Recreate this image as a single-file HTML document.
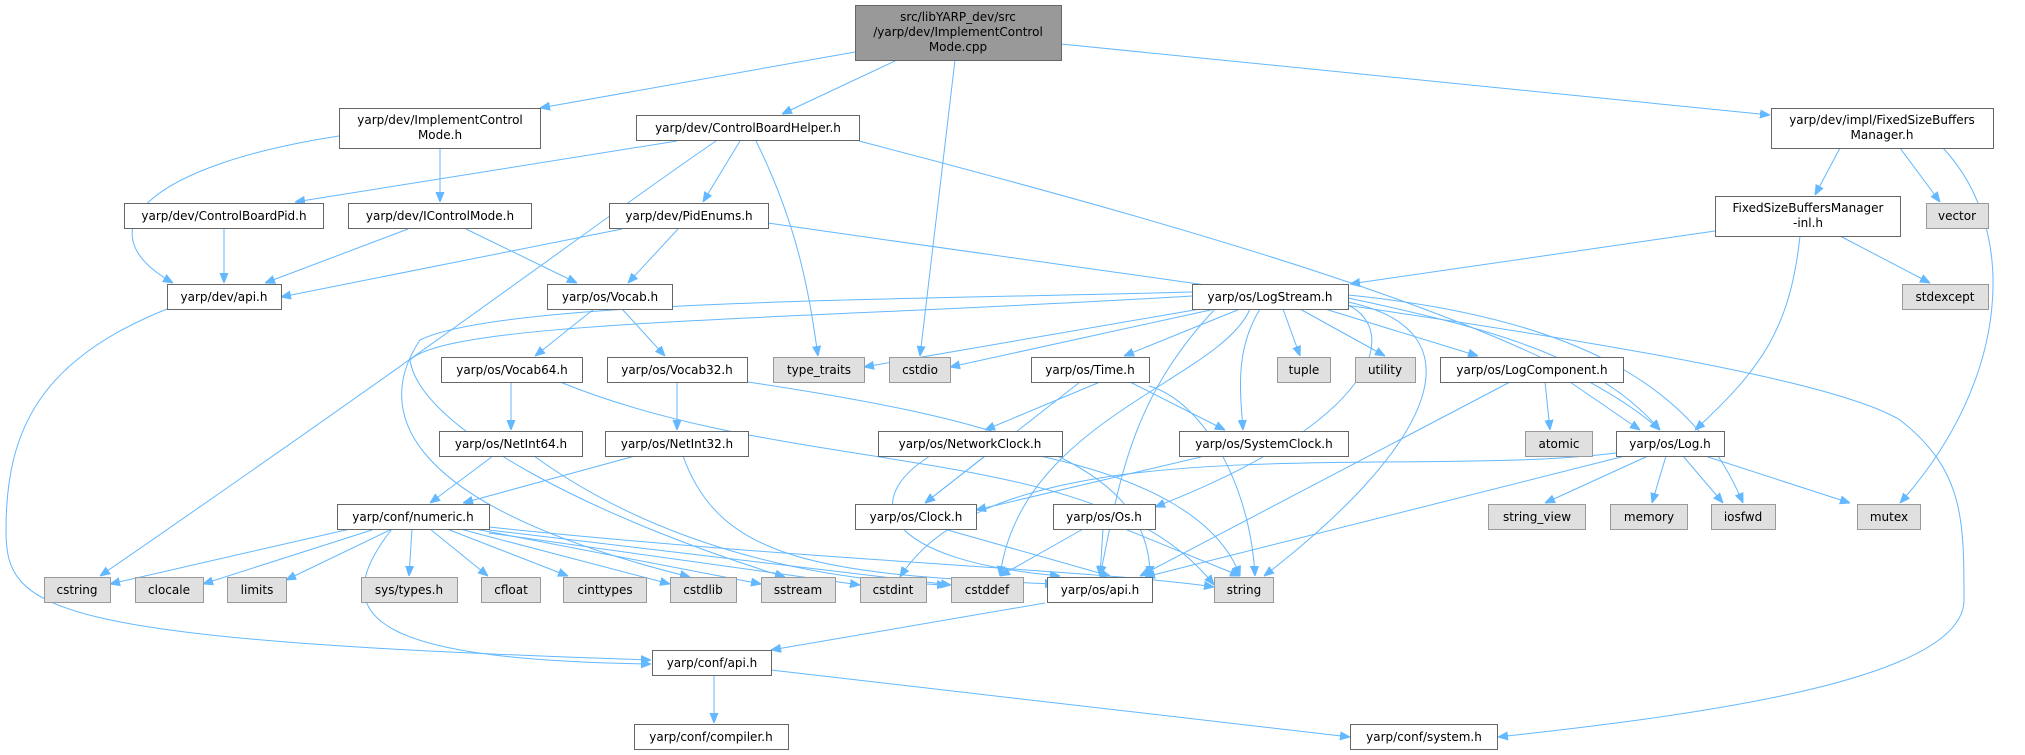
<!DOCTYPE html>
<html><head><meta charset="utf-8"><style>
html,body{margin:0;padding:0;background:#fff;}
svg{display:block}
text{font-family:"DejaVu Sans","Liberation Sans",sans-serif;font-size:12px;fill:#000;text-anchor:middle}
.n rect{fill:#fff;stroke:#666;stroke-width:1}
.g rect{fill:#e0e0e0;stroke:#999;stroke-width:1}
.r rect{fill:#999;stroke:#666;stroke-width:1}
path{fill:none;stroke:#63b8ff;stroke-width:1;marker-end:url(#a)}
</style></head><body>
<svg width="2025" height="755" viewBox="0 0 2025 755" xmlns="http://www.w3.org/2000/svg">
<defs><marker id="a" viewBox="0 0 10 10" refX="10" refY="5" markerWidth="10" markerHeight="10" markerUnits="userSpaceOnUse" orient="auto"><path d="M0,1L10,5L0,9z" style="fill:#63b8ff;stroke:#63b8ff;marker-end:none"/></marker></defs>

<!-- edges -->
<path d="M855,52L540,108"/>
<path d="M897,60L782,114"/>
<path d="M955,60L920,356"/>
<path d="M1061,44L1770,115"/>
<path d="M339,136C150,165 80,230 173,283"/>
<path d="M440,148L440,202"/>
<path d="M677,141L295,202"/>
<path d="M716,141C600,220 500,300 100,576"/>
<path d="M740,141L703,202"/>
<path d="M756,141C800,230 810,300 818,356"/>
<path d="M859,141C1200,230 1550,330 1660,430"/>
<path d="M622,229L281,297"/>
<path d="M678,229L628,283"/>
<path d="M768,223C1300,300 1800,360 1900,420C1964,470 1964,520 1964,600C1964,680 1700,715 1498,737"/>
<path d="M224,229L224,283"/>
<path d="M408,229L265,283"/>
<path d="M466,229L577,283"/>
<path d="M167,309C40,360 6,430 6,530C6,610 40,640 651,660"/>
<path d="M594,309L535,356"/>
<path d="M622,309L665,356"/>
<path d="M511,382L511,430"/>
<path d="M560,382C800,480 1100,440 1214,585"/>
<path d="M677,382L677,430"/>
<path d="M748,382C1000,420 1150,460 1150,576"/>
<path d="M493,456L430,503"/>
<path d="M534,456C650,540 800,580 947,585"/>
<path d="M635,456L463,503"/>
<path d="M683,456C720,560 820,575 1055,584"/>
<path d="M350,529L110,584"/>
<path d="M375,529L203,584"/>
<path d="M392,529L286,580"/>
<path d="M412,529L409,576"/>
<path d="M430,529L488,576"/>
<path d="M447,529L568,576"/>
<path d="M460,529L670,584"/>
<path d="M475,529L761,584"/>
<path d="M489,533L860,585"/>
<path d="M489,530L951,585"/>
<path d="M489,527C800,560 1100,570 1214,587"/>
<path d="M392,529C320,620 380,660 651,664"/>
<path d="M1192,292C900,300 500,300 420,340C380,400 380,500 690,577"/>
<path d="M1192,296C800,320 450,320 410,360C420,430 600,520 785,577"/>
<path d="M1200,309L864,367"/>
<path d="M1215,309L950,367"/>
<path d="M1283,309L1300,356"/>
<path d="M1300,309L1385,356"/>
<path d="M1325,309L1478,356"/>
<path d="M1240,309L1124,356"/>
<path d="M1260,309C1235,350 1240,390 1243,430"/>
<path d="M1348,298C1500,330 1600,360 1660,430"/>
<path d="M1348,295C1600,320 1700,400 1743,503"/>
<path d="M1348,302C1480,330 1440,440 1264,576"/>
<path d="M1215,309C1130,400 1120,480 1100,576"/>
<path d="M1348,305C1400,330 1380,420 1155,507"/>
<path d="M1250,309C1220,380 1020,420 1000,576"/>
<path d="M1100,382L985,430"/>
<path d="M1130,382L1225,430"/>
<path d="M1080,382L925,503"/>
<path d="M1149,386C1200,400 1250,480 1255,576"/>
<path d="M985,456L925,503"/>
<path d="M930,456C860,500 880,560 1060,576"/>
<path d="M1040,456C1150,480 1220,520 1240,576"/>
<path d="M1205,456L976,510"/>
<path d="M944,529L1110,576"/>
<path d="M1083,529L1000,576"/>
<path d="M1103,529L1100,576"/>
<path d="M1125,529L1240,576"/>
<path d="M1545,382L1550,430"/>
<path d="M1570,382L1640,430"/>
<path d="M1510,382L1140,576"/>
<path d="M1648,456L1545,503"/>
<path d="M1666,456L1652,503"/>
<path d="M1683,456L1723,503"/>
<path d="M1705,456L1850,503"/>
<path d="M1625,456L1145,577"/>
<path d="M1616,453C1400,480 1000,420 900,577"/>
<path d="M1840,148L1815,195"/>
<path d="M1900,148L1940,202"/>
<path d="M1943,148C2020,230 2010,380 1900,503"/>
<path d="M1715,231L1350,284"/>
<path d="M1840,236L1930,283"/>
<path d="M1800,236C1790,330 1760,370 1695,430"/>
<path d="M1045,603L771,650"/>
<path d="M714,676L714,723"/>
<path d="M771,670L1350,737"/>

<!-- nodes -->
<g class="r"><rect x="855.5" y="5.5" width="206" height="55"/><text x="958" y="21">src/libYARP_dev/src</text><text x="958" y="36">/yarp/dev/ImplementControl</text><text x="958" y="51">Mode.cpp</text></g>
<g class="n"><rect x="339.5" y="108.5" width="201" height="40"/><text x="440" y="124">yarp/dev/ImplementControl</text><text x="440" y="139">Mode.h</text></g>
<g class="n"><rect x="636.5" y="115.5" width="223" height="25"/><text x="748" y="132">yarp/dev/ControlBoardHelper.h</text></g>
<g class="n"><rect x="1771.5" y="108.5" width="222" height="40"/><text x="1882" y="124">yarp/dev/impl/FixedSizeBuffers</text><text x="1882" y="139">Manager.h</text></g>
<g class="n"><rect x="124.5" y="203.5" width="199" height="25"/><text x="224" y="220">yarp/dev/ControlBoardPid.h</text></g>
<g class="n"><rect x="348.5" y="203.5" width="183" height="25"/><text x="440" y="220">yarp/dev/IControlMode.h</text></g>
<g class="n"><rect x="609.5" y="203.5" width="159" height="25"/><text x="689" y="220">yarp/dev/PidEnums.h</text></g>
<g class="n"><rect x="1715.5" y="196.5" width="185" height="40"/><text x="1808" y="212">FixedSizeBuffersManager</text><text x="1808" y="227">-inl.h</text></g>
<g class="g"><rect x="1926.5" y="203.5" width="62" height="25"/><text x="1957" y="220">vector</text></g>
<g class="n"><rect x="167.5" y="284.5" width="114" height="25"/><text x="224" y="301">yarp/dev/api.h</text></g>
<g class="n"><rect x="547.5" y="284.5" width="125" height="25"/><text x="610" y="301">yarp/os/Vocab.h</text></g>
<g class="n"><rect x="1192.5" y="284.5" width="156" height="25"/><text x="1270" y="301">yarp/os/LogStream.h</text></g>
<g class="g"><rect x="1902.5" y="284.5" width="86" height="25"/><text x="1945" y="301">stdexcept</text></g>
<g class="n"><rect x="441.5" y="357.5" width="141" height="25"/><text x="512" y="374">yarp/os/Vocab64.h</text></g>
<g class="n"><rect x="607.5" y="357.5" width="140" height="25"/><text x="677" y="374">yarp/os/Vocab32.h</text></g>
<g class="g"><rect x="773.5" y="357.5" width="91" height="25"/><text x="819" y="374">type_traits</text></g>
<g class="g"><rect x="889.5" y="357.5" width="61" height="25"/><text x="920" y="374">cstdio</text></g>
<g class="n"><rect x="1031.5" y="357.5" width="118" height="25"/><text x="1090" y="374">yarp/os/Time.h</text></g>
<g class="g"><rect x="1277.5" y="357.5" width="53" height="25"/><text x="1304" y="374">tuple</text></g>
<g class="g"><rect x="1355.5" y="357.5" width="60" height="25"/><text x="1385" y="374">utility</text></g>
<g class="n"><rect x="1440.5" y="357.5" width="183" height="25"/><text x="1532" y="374">yarp/os/LogComponent.h</text></g>
<g class="n"><rect x="439.5" y="431.5" width="143" height="25"/><text x="511" y="448">yarp/os/NetInt64.h</text></g>
<g class="n"><rect x="605.5" y="431.5" width="143" height="25"/><text x="677" y="448">yarp/os/NetInt32.h</text></g>
<g class="n"><rect x="878.5" y="431.5" width="184" height="25"/><text x="970" y="448">yarp/os/NetworkClock.h</text></g>
<g class="n"><rect x="1179.5" y="431.5" width="169" height="25"/><text x="1264" y="448">yarp/os/SystemClock.h</text></g>
<g class="g"><rect x="1525.5" y="431.5" width="67" height="25"/><text x="1559" y="448">atomic</text></g>
<g class="n"><rect x="1616.5" y="431.5" width="108" height="25"/><text x="1670" y="448">yarp/os/Log.h</text></g>
<g class="n"><rect x="337.5" y="504.5" width="152" height="25"/><text x="413" y="521">yarp/conf/numeric.h</text></g>
<g class="n"><rect x="855.5" y="504.5" width="121" height="25"/><text x="916" y="521">yarp/os/Clock.h</text></g>
<g class="n"><rect x="1053.5" y="504.5" width="102" height="25"/><text x="1104" y="521">yarp/os/Os.h</text></g>
<g class="g"><rect x="1488.5" y="504.5" width="97" height="25"/><text x="1537" y="521">string_view</text></g>
<g class="g"><rect x="1610.5" y="504.5" width="77" height="25"/><text x="1649" y="521">memory</text></g>
<g class="g"><rect x="1711.5" y="504.5" width="64" height="25"/><text x="1743" y="521">iosfwd</text></g>
<g class="g"><rect x="1857.5" y="504.5" width="63" height="25"/><text x="1889" y="521">mutex</text></g>
<g class="g"><rect x="44.5" y="577.5" width="66" height="25"/><text x="77" y="594">cstring</text></g>
<g class="g"><rect x="135.5" y="577.5" width="68" height="25"/><text x="169" y="594">clocale</text></g>
<g class="g"><rect x="227.5" y="577.5" width="59" height="25"/><text x="257" y="594">limits</text></g>
<g class="g"><rect x="361.5" y="577.5" width="96" height="25"/><text x="409" y="594">sys/types.h</text></g>
<g class="g"><rect x="481.5" y="577.5" width="59" height="25"/><text x="511" y="594">cfloat</text></g>
<g class="g"><rect x="563.5" y="577.5" width="83" height="25"/><text x="605" y="594">cinttypes</text></g>
<g class="g"><rect x="670.5" y="577.5" width="66" height="25"/><text x="703" y="594">cstdlib</text></g>
<g class="g"><rect x="761.5" y="577.5" width="74" height="25"/><text x="798" y="594">sstream</text></g>
<g class="g"><rect x="860.5" y="577.5" width="66" height="25"/><text x="893" y="594">cstdint</text></g>
<g class="g"><rect x="951.5" y="577.5" width="72" height="25"/><text x="987" y="594">cstddef</text></g>
<g class="n"><rect x="1047.5" y="577.5" width="105" height="25"/><text x="1100" y="594">yarp/os/api.h</text></g>
<g class="g"><rect x="1214.5" y="577.5" width="59" height="25"/><text x="1244" y="594">string</text></g>
<g class="n"><rect x="652.5" y="650.5" width="119" height="25"/><text x="712" y="667">yarp/conf/api.h</text></g>
<g class="n"><rect x="634.5" y="724.5" width="154" height="25"/><text x="711" y="741">yarp/conf/compiler.h</text></g>
<g class="n"><rect x="1350.5" y="724.5" width="147" height="25"/><text x="1424" y="741">yarp/conf/system.h</text></g>
</svg>
</body></html>
